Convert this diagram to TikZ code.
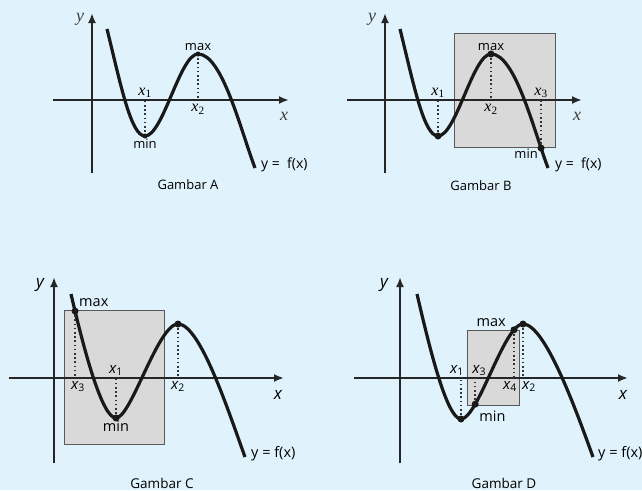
\documentclass[tikz,border=0pt]{standalone}
\usepackage{fontspec}
\setmainfont{Open Sans}
\newfontfamily\timesfont{Liberation Serif}
\usepackage{xcolor}
\usepackage{tikz}
\usetikzlibrary{arrows.meta,positioning}

\definecolor{bgblue}{RGB}{224,242,251}
\definecolor{boxgray}{RGB}{217,217,217}
\newcommand{\sx}[1]{{\timesfont\fontsize{16}{16}\selectfont\itshape x\textsubscript{\upshape#1}}}
\newcommand{\fx}[1]{{\fontsize{15}{15}\selectfont\itshape x\textsubscript{\upshape#1}}}

\begin{document}
\begin{tikzpicture}[
    x=1pt,
    y=-1pt,
    font=\fontsize{13}{15}\selectfont,
    axis/.style={-{Latex[length=10pt,width=8pt]},
                 draw=black!85,line width=2.2pt},
    curve/.style={draw=black!90,line width=3.2pt},
    drop/.style={draw=black!80,line width=2pt,dash pattern=on 1.6pt off 2.6pt},
    area/.style={fill=boxgray,draw=black!65,line width=1pt},
    dot/.style={circle,fill=black!90,inner sep=0pt,minimum size=7pt},
    lbl/.style={inner sep=1pt},
    biglbl/.style={inner sep=1pt,font=\fontsize{14.5}{16}\selectfont},
    serlbl/.style={inner sep=1pt,font=\timesfont\itshape\fontsize{18}{18}\selectfont,text=black!75},
    sanlbl/.style={inner sep=1pt,font=\itshape\fontsize{17}{17}\selectfont}
]

\path[use as bounding box,fill=bgblue] (0,0) rectangle (642,490);

% Gambar A
\coordinate (oA)  at (92,100);
\coordinate (xlA) at (53,100);
\coordinate (xrA) at (289,100);
\coordinate (ybA) at (92,173);
\coordinate (ytA) at (92,13);
\coordinate (sA)  at (107,29);
\coordinate (mnA) at (145,136);
\coordinate (mxA) at (198,54);
\coordinate (eA)  at (255,168);

\draw[axis] (xlA) -- (xrA);
\draw[axis] (ybA) -- (ytA);
\draw[curve] (sA) .. controls (121,86) and (131,136) .. (mnA)
                  .. controls (163,136) and (180,54) .. (mxA)
                  .. controls (222,54) and (240,128) .. (eA);
\draw[drop] (mnA) -- (mnA |- oA);
\draw[drop] (mxA) -- (mxA |- oA);
\node[dot,minimum size=5pt] (dmnA) at (mnA) {};
\node[dot,minimum size=5pt] (dmxA) at (mxA) {};

\node[lbl,above=1pt] (x1A) at (mnA |- oA) {\sx{1}};
\node[lbl,below=3pt] (x2A) at (mxA |- oA) {\sx{2}};
\node[lbl,below=2pt] (minA) at (mnA) {min};
\node[lbl,above=2pt] (maxA) at (mxA) {max};
\node[lbl,anchor=base west,xshift=5pt,font=\fontsize{14}{16}\selectfont] (fA) at (eA) {y =\ \ f(x)};
\node[serlbl] (yA) at (80,19) {y};
\node[serlbl] (xA) at (284,116) {x};
\node[lbl] (gA) at (188,185) {Gambar A};

% Gambar B
\coordinate (oB)  at (385,100);
\coordinate (xlB) at (347,100);
\coordinate (xrB) at (582,100);
\coordinate (ybB) at (385,173);
\coordinate (ytB) at (385,13);
\coordinate (sB)  at (400,29);
\coordinate (mnB) at (438,136);
\coordinate (mxB) at (491,54);
\coordinate (eB)  at (548,168);

\draw[area] (454,33) rectangle (555,147);
\draw[axis] (xlB) -- (xrB);
\draw[axis] (ybB) -- (ytB);
\draw[curve] (sB) .. controls (414,86) and (424,136) .. (mnB)
                  .. controls (456,136) and (473,54) .. (mxB)
                  .. controls (515,54) and (533,128) .. (eB)
                  coordinate[pos=0.85] (p3B);
\draw[drop] (mnB) -- (mnB |- oB);
\draw[drop] (mxB) -- (mxB |- oB);
\draw[drop] (p3B) -- (p3B |- oB);
\node[dot] (dmnB) at (mnB) {};
\node[dot] (dmxB) at (mxB) {};
\node[dot] (dp3B) at (p3B) {};

\node[lbl,above=1pt] (x1B) at (mnB |- oB) {\sx{1}};
\node[lbl,below=3pt] (x2B) at (mxB |- oB) {\sx{2}};
\node[lbl,above=1pt] (x3B) at (p3B |- oB) {\sx{3}};
\node[lbl,above=2pt] (maxB) at (mxB) {max};
\node[lbl,below left=0pt and 2pt] (minB) at (p3B) {min};
\node[lbl,anchor=base west,xshift=6pt,font=\fontsize{14}{16}\selectfont] (fB) at (eB) {y =\ \ f(x)};
\node[serlbl] (yB) at (372,19) {y};
\node[serlbl] (xB) at (577,116) {x};
\node[lbl] (gB) at (481,186) {Gambar B};

% Gambar C
\coordinate (oC)  at (54,378);
\coordinate (xlC) at (9,378);
\coordinate (xrC) at (284,378);
\coordinate (ybC) at (54,463);
\coordinate (ytC) at (54,277);
\coordinate (sC)  at (71,294);
\coordinate (mnC) at (116,418);
\coordinate (mxC) at (178,324);
\coordinate (eC)  at (245,457);

\draw[area] (64,310) rectangle (164,444);
\draw[axis] (xlC) -- (xrC);
\draw[axis] (ybC) -- (ytC);
\draw[curve] (sC) .. controls (84,350) and (102,418) .. (mnC)
                  coordinate[pos=0.1] (p3C)
                  .. controls (131,418) and (158,324) .. (mxC)
                  .. controls (200,324) and (228,410) .. (eC);
\draw[drop] (p3C) -- (p3C |- oC);
\draw[drop] (mnC) -- (mnC |- oC);
\draw[drop] (mxC) -- (mxC |- oC);
\node[dot] (dp3C) at (p3C) {};
\node[dot] (dmnC) at (mnC) {};
\node[dot] (dmxC) at (mxC) {};

\node[lbl,below=2pt,xshift=3pt] (x3C) at (p3C |- oC) {\fx{3}};
\node[lbl,above=1pt] (x1C) at (mnC |- oC) {\fx{1}};
\node[lbl,below=2pt] (x2C) at (mxC |- oC) {\fx{2}};
\node[biglbl,anchor=west,xshift=3pt,yshift=8pt] (maxC) at (p3C) {max};
\node[biglbl,below=2pt] (minC) at (mnC) {min};
\node[biglbl,anchor=base west,xshift=5pt] (fC) at (eC) {y = f(x)};
\node[sanlbl] (yC) at (40,285) {y};
\node[sanlbl] (xC) at (278,395) {x};
\node[biglbl,font=\fontsize{13.5}{15}\selectfont] (gC) at (162,483) {Gambar C};

% Gambar D
\coordinate (oD)  at (400,378);
\coordinate (xlD) at (354,378);
\coordinate (xrD) at (628,378);
\coordinate (ybD) at (400,463);
\coordinate (ytD) at (400,277);
\coordinate (sD)  at (417,294);
\coordinate (mnD) at (461,419);
\coordinate (mxD) at (523,324);
\coordinate (eD)  at (593,457);

\draw[area] (467,330) rectangle (519,405);
\draw[axis] (xlD) -- (xrD);
\draw[axis] (ybD) -- (ytD);
\draw[curve] (sD) .. controls (430,350) and (447,419) .. (mnD)
                  .. controls (478,419) and (504,324) .. (mxD)
                  coordinate[pos=0.25] (p3D) coordinate[pos=0.85] (p4D)
                  .. controls (545,324) and (576,410) .. (eD);
\draw[drop] (mnD) -- (mnD |- oD);
\draw[drop] (p3D) -- (p3D |- oD);
\draw[drop] (p4D) -- (p4D |- oD);
\draw[drop] (mxD) -- (mxD |- oD);
\node[dot] (dmnD) at (mnD) {};
\node[dot] (dp3D) at (p3D) {};
\node[dot] (dp4D) at (p4D) {};
\node[dot] (dmxD) at (mxD) {};

\node[lbl,above=1pt,xshift=-4pt] (x1D) at (mnD |- oD) {\fx{1}};
\node[lbl,above=1pt,xshift=4pt] (x3D) at (p3D |- oD) {\fx{3}};
\node[lbl,below=2pt,xshift=-4pt] (x4D) at (p4D |- oD) {\fx{4}};
\node[lbl,below=2pt,xshift=6pt] (x2D) at (mxD |- oD) {\fx{2}};
\node[biglbl,anchor=east,xshift=-7pt,yshift=7pt] (maxD) at (p4D) {max};
\node[biglbl,anchor=west,xshift=3pt,yshift=-12pt] (minD) at (p3D) {min};
\node[biglbl,anchor=base west,xshift=4pt] (fD) at (eD) {y = f(x)};
\node[sanlbl] (yD) at (384,285) {y};
\node[sanlbl] (xD) at (623,395) {x};
\node[biglbl,font=\fontsize{13.5}{15}\selectfont] (gD) at (504,483) {Gambar D};

\end{tikzpicture}
\end{document}
